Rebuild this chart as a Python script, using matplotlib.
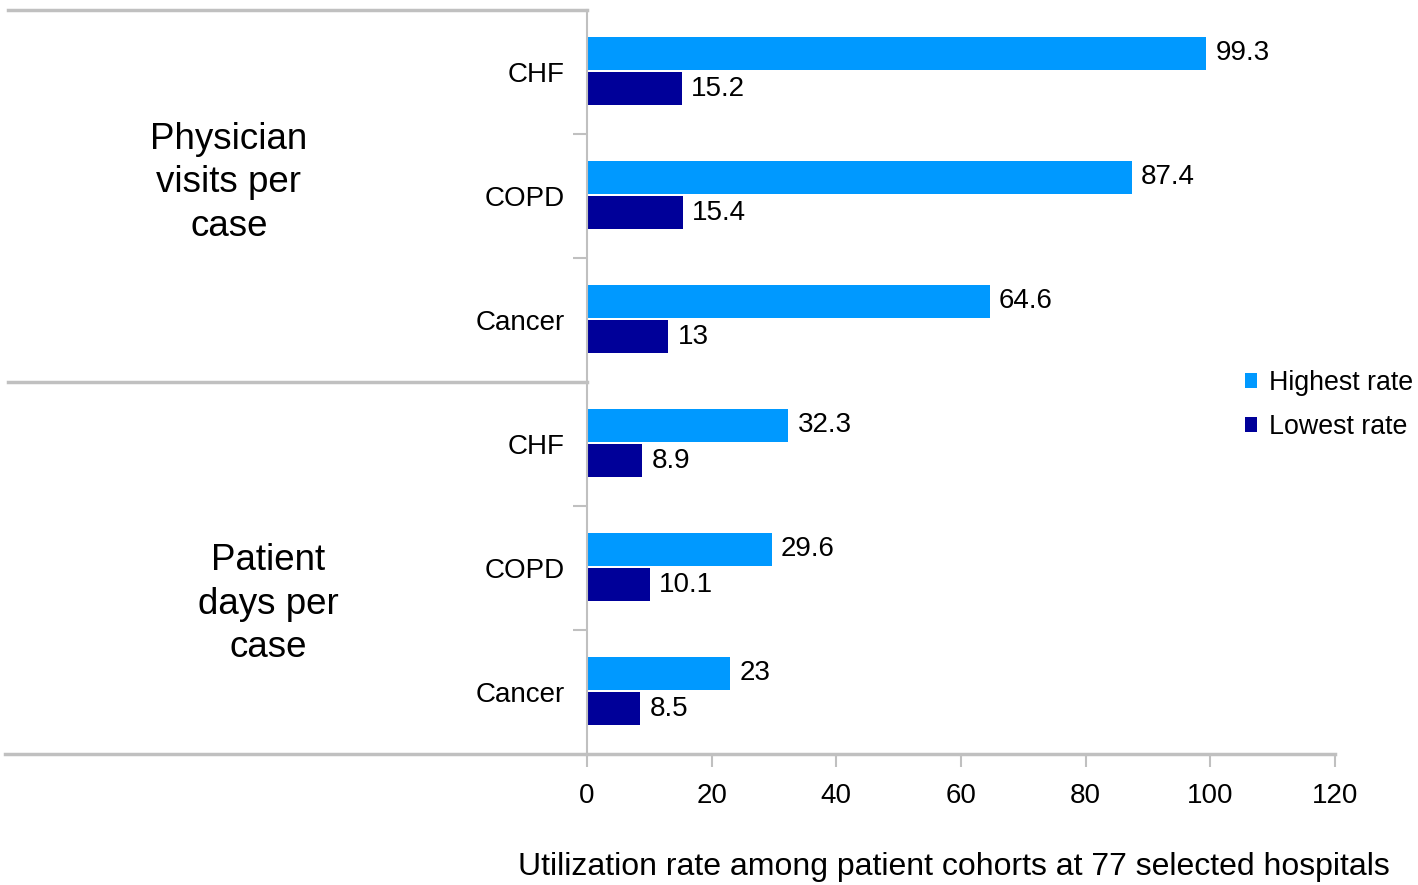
import matplotlib.pyplot as plt
import numpy as np

plt.rcParams['font.family'] = ['Liberation Sans', 'DejaVu Sans']

# Datos: tasas por grupo de pacientes
conditions = ['CHF', 'COPD', 'Cancer', 'CHF', 'COPD', 'Cancer']
groups = ['Physician\nvisits per\ncase', 'Patient\ndays per\ncase']
highest = [99.3, 87.4, 64.6, 32.3, 29.6, 23]
lowest = [15.2, 15.4, 13, 8.9, 10.1, 8.5]
xticks = [0, 20, 40, 60, 80, 100, 120]

light = '#0099FF'
dark = '#000099'
gray = '#C0C0C0'

fig = plt.figure(figsize=(14.18, 8.85), dpi=100)
ax = fig.add_axes([587 / 1418, 1 - 754 / 885, 748 / 1418, 744 / 885])

y = np.arange(len(conditions))
h = 0.27
b1 = ax.barh(y - 0.15, highest, height=h, color=light, label='Highest rate')
b2 = ax.barh(y + 0.135, lowest, height=h, color=dark, label='Lowest rate')

# Etiquetas de valor al final de cada barra
for bars, vals in ((b1, highest), (b2, lowest)):
    for bar, v in zip(bars, vals):
        ax.text(v + 1.5, bar.get_y() + bar.get_height() / 2, f'{v:g}',
                va='center', ha='left', fontsize=20)

ax.set_xlim(0, 120)
ax.set_ylim(len(conditions) - 0.5, -0.5)
ax.set_xticks(xticks)
ax.set_xticklabels([str(t) for t in xticks], fontsize=20)
ax.tick_params(axis='x', direction='out', length=9, color=gray, width=1.5, pad=12)

ax.set_yticks(y)
ax.set_yticklabels(conditions, fontsize=20)
ax.tick_params(axis='y', length=0, pad=16)
ax.set_yticks([0.5, 1.5, 3.5, 4.5], minor=True)
ax.tick_params(axis='y', which='minor', direction='out', length=10, color=gray, width=1.5)

for s in ('top', 'right'):
    ax.spines[s].set_visible(False)
ax.spines['left'].set_color(gray)
ax.spines['left'].set_linewidth(1.5)
ax.spines['bottom'].set_visible(False)

# Líneas que separan los grupos a la izquierda
x0 = (8 - 587) / 748
ax.plot([x0, 0], [1, 1], transform=ax.transAxes, color=gray, lw=2.5, clip_on=False)
ax.plot([x0, 0], [0.5, 0.5], transform=ax.transAxes, color=gray, lw=2.5, clip_on=False)
ax.plot([(5 - 587) / 748, 1], [0, 0], transform=ax.transAxes, color=gray, lw=2.5, clip_on=False)

# Nombres de los grupos
ax.text((229 - 587) / 748, 1 - (183 - 10) / 744, groups[0], transform=ax.transAxes,
        ha='center', va='center', fontsize=26.5, linespacing=1.33)
ax.text((268 - 587) / 748, 1 - (604 - 10) / 744, groups[1], transform=ax.transAxes,
        ha='center', va='center', fontsize=26.5, linespacing=1.33)

ax.set_xlabel('Utilization rate among patient cohorts at 77 selected hospitals',
              fontsize=23)
ax.xaxis.set_label_coords((954 - 587) / 748, -(867 - 754) / 744)
ax.xaxis.label.set_va('center')

fig.legend(handles=[b1, b2], loc='center left', frameon=False, fontsize=19.3,
           bbox_to_anchor=(1245 / 1418, 1 - 405 / 885), handlelength=0.45,
           handleheight=0.45, handletextpad=0.45, labelspacing=0.68,
           borderaxespad=0, borderpad=0)

fig.savefig('out.png', dpi=100)
